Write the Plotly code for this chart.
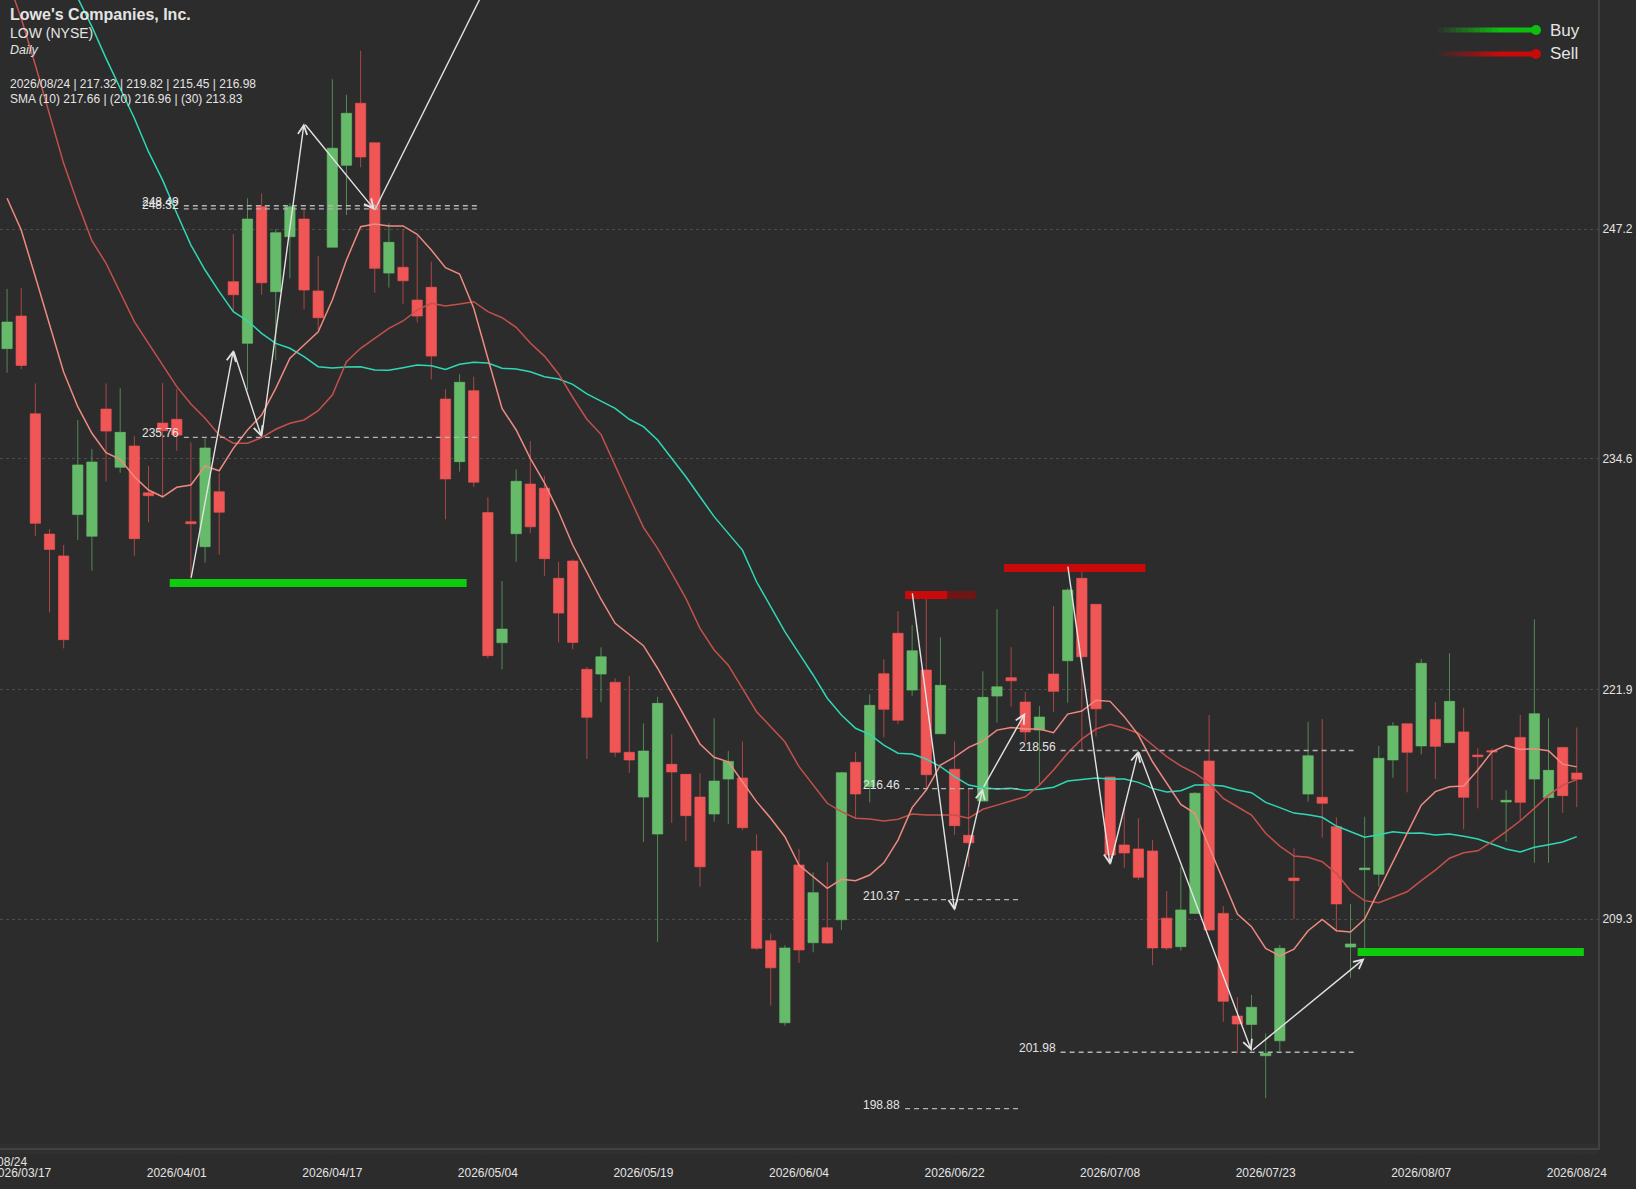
import pandas as pd
import plotly.graph_objects as go

# trading days shown on the chart (market holidays dropped)
holidays = ['2026-04-03', '2026-05-25', '2026-06-19', '2026-07-03']
days = pd.bdate_range('2026-03-16', '2026-08-24')
days = [d.strftime('%Y/%m/%d') for d in days if d.strftime('%Y-%m-%d') not in holidays]

# prices
opens = [240.64, 242.43, 237.06, 230.45, 229.25, 231.52, 230.33, 237.32, 234.12, 235.29,
         232.72, 236.55, 236.76, 231.13, 229.76, 232.78, 244.32, 240.93, 248.44, 243.77,
         246.79, 247.76, 243.81, 246.21, 250.71, 254.12, 251.95, 244.79, 245.11, 243.31,
         244.01, 237.87, 234.43, 238.33, 231.63, 224.48, 230.47, 233.20, 232.97, 228.02,
         228.97, 223.02, 222.76, 222.31, 218.46, 216.00, 213.97, 217.80, 217.25, 216.00,
         215.07, 216.99, 217.05, 213.04, 208.11, 203.60, 212.27, 208.00, 208.82, 209.26,
         217.91, 216.57, 222.78, 225.00, 221.88, 222.98, 219.48, 217.53, 213.90, 215.78,
         221.55, 222.56, 221.22, 219.68, 222.76, 223.49, 228.02, 226.59, 217.10, 213.37,
         213.15, 213.04, 209.35, 207.78, 209.61, 217.98, 209.61, 203.97, 203.51, 201.79,
         202.61, 211.55, 216.17, 215.99, 214.37, 207.76, 212.01, 211.76, 218.04, 220.03,
         218.81, 220.27, 218.99, 219.58, 218.31, 218.55, 215.73, 219.28, 216.99, 215.97,
         218.73, 217.32]
highs = [243.92, 243.97, 238.73, 230.73, 229.85, 236.72, 235.12, 238.73, 238.46, 235.84,
         234.19, 238.75, 238.42, 235.49, 235.71, 233.82, 246.94, 248.90, 249.17, 247.20,
         248.62, 248.30, 245.73, 255.44, 254.58, 257.01, 251.95, 247.53, 247.20, 246.83,
         245.42, 238.41, 239.23, 239.10, 232.47, 227.87, 234.01, 235.56, 233.64, 228.93,
         229.06, 223.16, 224.23, 222.53, 222.65, 220.05, 221.51, 219.45, 217.25, 217.31,
         220.33, 218.53, 219.06, 213.95, 208.51, 207.86, 213.15, 211.87, 212.42, 217.39,
         218.49, 221.65, 223.57, 226.22, 225.46, 227.28, 224.78, 219.06, 216.48, 222.91,
         226.33, 224.23, 221.77, 221.00, 226.50, 227.47, 228.38, 226.59, 217.10, 215.47,
         214.84, 213.64, 210.84, 212.17, 216.28, 220.51, 210.01, 205.01, 205.13, 203.02,
         207.87, 213.19, 220.14, 220.29, 214.89, 210.13, 214.92, 218.81, 220.12, 220.05,
         223.59, 221.22, 223.90, 220.91, 218.68, 218.68, 216.39, 220.51, 225.77, 220.33,
         218.73, 219.82]
lows = [239.32, 239.50, 230.35, 226.15, 224.17, 230.13, 228.44, 233.33, 233.82, 229.26,
        231.10, 232.50, 235.03, 227.98, 228.88, 229.32, 242.67, 238.37, 243.60, 240.01,
        244.50, 242.80, 241.66, 246.21, 247.98, 250.60, 243.71, 243.99, 243.08, 242.07,
        238.95, 231.26, 233.88, 233.05, 223.62, 223.02, 228.93, 230.49, 228.16, 224.50,
        224.12, 218.09, 221.22, 218.22, 217.34, 213.53, 208.04, 214.59, 213.59, 211.08,
        214.65, 214.52, 214.19, 207.60, 204.54, 203.44, 206.90, 207.47, 207.93, 208.70,
        214.84, 215.71, 219.28, 220.00, 221.57, 216.48, 219.48, 213.92, 212.17, 215.78,
        220.09, 220.97, 219.04, 216.70, 220.69, 221.18, 218.59, 219.32, 212.64, 212.12,
        211.44, 206.77, 207.60, 207.56, 209.61, 208.64, 203.66, 201.92, 202.05, 199.45,
        202.05, 209.30, 215.75, 213.77, 208.60, 206.07, 207.71, 211.08, 217.06, 216.26,
        218.35, 216.99, 218.99, 214.23, 215.38, 215.84, 213.55, 214.74, 212.39, 212.39,
        215.14, 215.45]
closes = [242.10, 239.72, 231.04, 229.61, 224.65, 234.25, 234.41, 236.11, 236.04, 230.20,
          232.56, 236.13, 235.89, 231.02, 235.18, 231.65, 243.60, 247.76, 244.26, 247.01,
          248.44, 243.86, 242.34, 251.65, 253.57, 251.17, 245.05, 246.48, 244.37, 242.43,
          240.23, 233.48, 238.79, 233.30, 223.77, 225.23, 233.35, 230.85, 229.10, 226.11,
          224.50, 220.38, 223.71, 218.46, 218.04, 218.53, 221.15, 217.38, 214.98, 212.17,
          216.88, 217.96, 214.32, 207.69, 206.62, 207.71, 207.60, 210.75, 207.98, 217.34,
          216.17, 221.04, 220.82, 220.22, 224.04, 217.23, 222.14, 214.43, 213.49, 221.48,
          222.06, 222.39, 219.58, 220.40, 221.81, 227.38, 223.71, 220.85, 212.82, 212.93,
          211.59, 207.71, 207.71, 209.80, 216.21, 208.70, 204.78, 203.53, 204.45, 201.92,
          207.69, 211.41, 218.27, 215.66, 210.13, 207.93, 212.10, 218.13, 219.91, 218.46,
          223.35, 218.79, 221.26, 215.99, 218.22, 218.48, 215.82, 215.71, 220.58, 217.47,
          216.08, 216.98]

sma_10 = [248.90, 247.16, 244.59, 241.94, 239.36, 237.45, 235.99, 234.92, 234.56, 233.60,
          232.87, 232.50, 233.02, 233.15, 234.19, 233.93, 235.16, 236.17, 236.99, 238.46,
          240.11, 240.84, 241.57, 243.31, 245.51, 247.34, 247.49, 247.38, 247.38, 246.92,
          246.06, 245.09, 244.74, 242.86, 240.11, 237.36, 236.17, 234.61, 233.26, 231.68,
          229.85, 228.38, 226.87, 225.55, 224.94, 224.32, 223.08, 221.70, 220.33, 218.92,
          218.19, 217.94, 216.84, 215.75, 214.84, 213.82, 212.27, 211.63, 210.99, 211.48,
          211.41, 211.72, 212.39, 213.64, 215.42, 216.39, 217.76, 218.19, 218.73, 219.08,
          219.68, 219.83, 219.74, 219.74, 219.54, 220.56, 220.73, 221.32, 221.26, 220.42,
          219.41, 217.94, 216.76, 215.60, 215.11, 213.27, 211.44, 209.57, 208.88, 207.69,
          207.27, 207.64, 208.66, 209.28, 208.66, 208.59, 209.30, 210.89, 212.45, 214.01,
          215.56, 216.30, 216.57, 216.61, 217.49, 218.49, 218.85, 218.62, 218.66, 218.55,
          217.81, 217.66]
sma_20 = [261.00, 258.79, 256.22, 253.57, 250.82, 248.62, 246.57, 245.33, 243.77, 242.12,
          240.93, 239.74, 238.55, 237.60, 236.81, 235.89, 235.44, 235.44, 235.75, 236.21,
          236.54, 236.72, 237.23, 238.09, 239.92, 240.66, 241.21, 241.75, 242.16, 242.76,
          243.13, 242.98, 243.09, 243.22, 242.67, 242.34, 241.81, 240.95, 240.23, 239.25,
          237.97, 236.76, 235.93, 234.19, 232.50, 230.82, 229.67, 228.30, 226.92, 225.27,
          224.08, 223.25, 221.97, 220.69, 219.87, 219.04, 217.67, 216.66, 215.66, 215.20,
          214.84, 214.79, 214.69, 214.78, 215.07, 215.01, 215.01, 215.01, 214.84, 215.33,
          215.56, 215.78, 216.02, 216.66, 217.49, 218.42, 219.19, 219.74, 220.00, 219.78,
          219.51, 218.86, 218.22, 217.71, 217.31, 216.76, 215.93, 215.47, 215.01, 214.01,
          213.31, 212.76, 212.69, 212.45, 211.81, 210.85, 210.31, 210.20, 210.52, 210.80,
          211.41, 211.99, 212.64, 212.94, 213.05, 213.55, 214.10, 214.70, 215.38, 216.11,
          216.66, 216.96]
sma_30 = [272.00, 270.30, 268.60, 266.50, 263.90, 259.90, 258.33, 256.59, 254.94, 253.30,
          251.46, 249.90, 248.08, 246.33, 244.96, 243.77, 242.67, 242.17, 241.48, 240.93,
          240.66, 240.20, 239.65, 239.57, 239.63, 239.65, 239.47, 239.45, 239.59, 239.74,
          239.70, 239.50, 239.78, 239.89, 239.85, 239.56, 239.52, 239.37, 239.10, 238.97,
          238.68, 238.15, 237.76, 237.36, 236.76, 236.35, 235.62, 234.61, 233.60, 232.50,
          231.41, 230.49, 229.57, 227.83, 226.46, 225.09, 223.90, 222.71, 221.43, 220.51,
          219.78, 219.45, 218.86, 218.41, 218.37, 218.09, 217.67, 217.12, 216.66, 216.51,
          216.44, 216.48, 216.37, 216.43, 216.54, 216.88, 216.96, 217.05, 216.99, 216.99,
          216.81, 216.48, 216.28, 216.35, 216.66, 216.66, 216.61, 216.39, 216.24, 215.71,
          215.42, 215.12, 215.03, 214.89, 214.41, 214.10, 213.79, 213.93, 214.10, 214.01,
          214.03, 213.92, 213.97, 213.85, 213.70, 213.42, 213.15, 212.98, 213.24, 213.38,
          213.53, 213.83]

y_ticks = [247.2, 234.6, 221.9, 209.3]
x_labels = ['2026/03/17', '2026/04/01', '2026/04/17', '2026/05/04', '2026/05/19',
            '2026/06/04', '2026/06/22', '2026/07/08', '2026/07/23', '2026/08/07', '2026/08/24']

# horizontal levels: price, first bar, last bar
levels = [(248.49, 12.5, 33.5), (248.32, 12.5, 33.5), (235.76, 12.5, 33.5),
          (216.46, 63.5, 71.5), (210.37, 63.5, 71.5), (198.88, 63.5, 71.5),
          (218.56, 74.5, 95.5), (201.98, 74.5, 95.5)]

# thick buy and sell zones
buy_zones = [(227.76, 11.5, 32.5), (207.49, 95.5, 111.5)]
sell_zones = [(227.10, 63.5, 66.5), (228.59, 70.5, 80.5)]
sell_zone_faded = (227.10, 66.5, 68.5)

# zigzag legs
zigzag_x = [13, 16, 18, 21, 26]
zigzag_y = [227.98, 240.56, 235.77, 253.02, 248.26]
last_leg_x = [26, 35]
last_leg_y = [248.26, 262.30]
zigzag2_x = [64, 67, 69, 72]
zigzag2_y = [227.28, 209.76, 216.48, 220.63]
zigzag3_x = [75, 78, 80, 88, 96]
zigzag3_y = [228.75, 212.27, 218.55, 202.05, 207.14]

bg = '#2c2c2c'
text_color = '#e4e4e4'
WIDTH, HEIGHT = 1598, 1148

fig = go.Figure()

fig.add_trace(go.Candlestick(
    x=days, open=opens, high=highs, low=lows, close=closes,
    increasing=dict(line=dict(color='rgba(102,187,106,0.65)', width=1), fillcolor='#66bb6a'),
    decreasing=dict(line=dict(color='rgba(240,84,84,0.65)', width=1), fillcolor='#f05656'),
    hoverinfo='skip',
))

for values, color in [(sma_30, '#2fd8b5'), (sma_20, '#c4504b'), (sma_10, '#ee8a80')]:
    fig.add_trace(go.Scatter(x=days, y=values, mode='lines', hoverinfo='skip',
                             line=dict(color=color, width=1.5)))

fig.add_trace(go.Scatter(x=[days[i] for i in last_leg_x], y=last_leg_y, mode='lines',
                         hoverinfo='skip', line=dict(color='#e2e2e2', width=1.4)))

shapes = []
annotations = []


def px_x(v):
    return v / WIDTH


def px_y(v):
    return 1 - v / HEIGHT


# faint band round the bottom edge of the plot
shapes.append(dict(type='rect', xref='paper', yref='paper', layer='below',
                   x0=0, x1=1, y0=px_y(1154), y1=px_y(1144),
                   fillcolor='#303030', line=dict(width=0)))

for price, x0, x1 in levels:
    shapes.append(dict(type='line', x0=x0, x1=x1, y0=price, y1=price, xref='x', yref='y',
                       line=dict(color='#b4b4b4', width=1.3, dash='5px,4px')))
    annotations.append(dict(x=x0, y=price, xref='x', yref='y', text=f'{price:.2f}',
                            showarrow=False, xanchor='right', xshift=-3, yshift=4,
                            font=dict(size=12, color=text_color)))

for price, x0, x1 in buy_zones:
    shapes.append(dict(type='line', x0=x0, x1=x1, y0=price, y1=price, xref='x', yref='y',
                       line=dict(color='#0ecb0e', width=8)))
for price, x0, x1 in sell_zones:
    shapes.append(dict(type='line', x0=x0, x1=x1, y0=price, y1=price, xref='x', yref='y',
                       line=dict(color='#c80a0a', width=8)))
price, x0, x1 = sell_zone_faded
shapes.append(dict(type='line', x0=x0, x1=x1, y0=price, y1=price, xref='x', yref='y',
                   line=dict(color='#6e1616', width=8)))

# arrows between pivots
for xs, ys in [(zigzag_x, zigzag_y), (zigzag2_x, zigzag2_y), (zigzag3_x, zigzag3_y)]:
    for i in range(len(xs) - 1):
        annotations.append(dict(x=xs[i + 1], y=ys[i + 1], ax=xs[i], ay=ys[i],
                                xref='x', yref='y', axref='x', ayref='y', text='',
                                showarrow=True, arrowhead=5, arrowsize=1.3, arrowwidth=1.4,
                                arrowcolor='#e2e2e2'))

# legend drawn by hand: fading line with a dot on the end
for label, color_rgb, y_px in [('Buy', '14,190,14', 30), ('Sell', '200,10,10', 54)]:
    steps = 16
    for s in range(steps):
        x0 = 1438 + s * 6
        shapes.append(dict(type='line', xref='paper', yref='paper',
                           x0=px_x(x0), x1=px_x(x0 + 6), y0=px_y(y_px), y1=px_y(y_px),
                           line=dict(color=f'rgba({color_rgb},{min(1, (s + 1) / 11):.2f})', width=5)))
    shapes.append(dict(type='circle', xref='paper', yref='paper', fillcolor=f'rgb({color_rgb})',
                       x0=px_x(1531), x1=px_x(1541), y0=px_y(y_px + 5), y1=px_y(y_px - 5),
                       line=dict(width=0)))
    annotations.append(dict(x=px_x(1548), y=px_y(y_px), xref='paper', yref='paper', text=label,
                            showarrow=False, xanchor='left', yanchor='middle',
                            font=dict(size=17, color=text_color)))

# header text
header = [("<b>Lowe's Companies, Inc.</b>", 14, 16), ('LOW (NYSE)', 33, 14), ('<i>Daily</i>', 50, 12.5),
          ('2026/08/24 | 217.32 | 219.82 | 215.45 | 216.98', 84, 12),
          ('SMA (10) 217.66 | (20) 216.96 | (30) 213.83', 99, 12)]
for text, y_px, size in header:
    annotations.append(dict(x=px_x(7.5), y=px_y(y_px), xref='paper', yref='paper', text=text,
                            showarrow=False, xanchor='left', yanchor='middle',
                            font=dict(size=size, color=text_color)))

# stray date label in the bottom left corner
annotations.append(dict(x=px_x(29), y=px_y(1162), xref='paper', yref='paper', text='2026/08/24',
                        showarrow=False, xanchor='right', yanchor='middle',
                        font=dict(size=12, color=text_color)))

fig.update_layout(
    width=1636, height=1189,
    margin=dict(l=0, r=38, t=0, b=41),
    paper_bgcolor=bg, plot_bgcolor=bg,
    showlegend=False,
    boxgap=0.27,
    boxgroupgap=0,
    font=dict(family='Liberation Sans, Arial, sans-serif', color=text_color, size=12),
    shapes=shapes,
    annotations=annotations,
)
fig.update_xaxes(type='category', categoryorder='trace', range=[-0.5, 112.5], automargin=False,
                 rangeslider_visible=False, showgrid=False, zeroline=False,
                 tickmode='array', tickvals=x_labels, ticktext=x_labels, tickangle=0,
                 ticks='outside', ticklen=13, tickcolor=bg,
                 showline=True, mirror=True, linecolor='#424242', linewidth=2)
fig.update_yaxes(side='right', range=[196.72, 259.795], zeroline=False, automargin=False,
                 tickmode='array', tickvals=y_ticks, ticktext=[f'{v:.1f}' for v in y_ticks],
                 showgrid=True, gridcolor='#4c4c4c', griddash='dot', gridwidth=1,
                 ticks='',
                 showline=True, mirror=True, linecolor='#424242', linewidth=2)

# drop the default page margin so the chart fills the window
fig.write_html("out.html", config={'displayModeBar': False},
               post_script="document.body.style.margin = '0';")
